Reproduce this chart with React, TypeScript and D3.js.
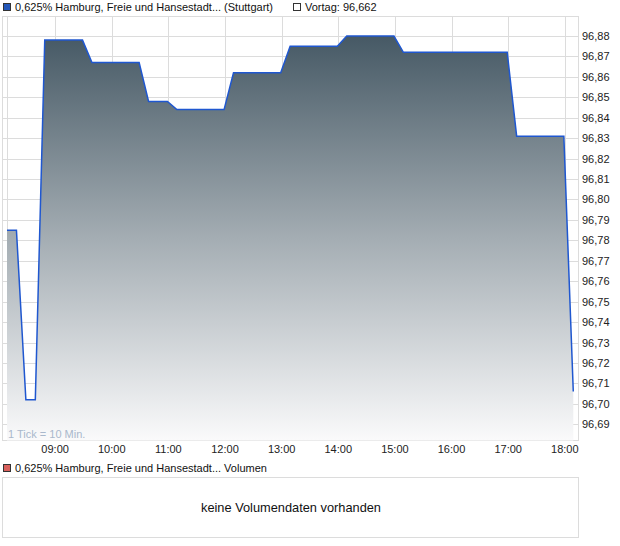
import React from "react";
import * as d3 from "d3";

const times = ["08:09","08:19","08:29","08:39","08:49","09:29","09:39","10:29","10:39","10:59","11:09","11:59","12:09","12:59","13:09","13:59","14:09","14:59","15:09","16:59","17:09","17:59","18:09"];
const values = [96.785,96.785,96.702,96.702,96.878,96.878,96.867,96.867,96.848,96.848,96.844,96.844,96.862,96.862,96.875,96.875,96.880,96.880,96.872,96.872,96.831,96.831,96.706];
const xTickLabels = ["09:00","10:00","11:00","12:00","13:00","14:00","15:00","16:00","17:00","18:00"];
const yTicks = [96.69,96.70,96.71,96.72,96.73,96.74,96.75,96.76,96.77,96.78,96.79,96.80,96.81,96.82,96.83,96.84,96.85,96.86,96.87,96.88];
const xDomainLabels = ["08:09","18:14"];
const yDomain = [96.6818, 96.8898];
const titleText = "0,625% Hamburg, Freie und Hansestadt... (Stuttgart)";
const prevText = "Vortag: 96,662";
const volTitle = "0,625% Hamburg, Freie und Hansestadt... Volumen";
const volEmpty = "keine Volumendaten vorhanden";
const tickNote = "1 Tick = 10 Min.";

const W = 620, H = 546;
const L = 2.5, R = 578.5, T = 16.5, B = 440.5;
const PX0 = 7, PX1 = 578;
const font = "'Liberation Sans', Arial, sans-serif";

export default function App() {
  const parse = d3.timeParse("%H:%M");
  const x = d3.scaleTime().domain(xDomainLabels.map(s => parse(s) as Date)).range([PX0, PX1]);
  const y = d3.scaleLinear().domain(yDomain).range([441, 16]);
  const pts = times.map((t, i) => ({ t: parse(t) as Date, v: values[i] }));
  const line = d3.line<any>().x(d => x(d.t)).y(d => y(d.v));
  const area = d3.area<any>().x(d => x(d.t)).y0(B).y1(d => y(d.v));
  const fmt = (v: number) => d3.format(".2f")(v).replace(".", ",");
  const gTop = y(d3.max(values) as number);

  return (
    <svg width={W} height={H} style={{ position: "absolute", left: 0, top: 0, background: "#fff" }} fontFamily={font}>
      <defs>
        <linearGradient id="fillGrad" gradientUnits="userSpaceOnUse" x1="0" y1={gTop} x2="0" y2={B}>
          <stop offset="0" stopColor="#465965" />
          <stop offset="0.5" stopColor="#a4adb3" />
          <stop offset="1" stopColor="#fafafb" />
        </linearGradient>
      </defs>
      {/* top legend */}
      <rect x={3.5} y={3.5} width={7} height={7} fill="#2457b9" stroke="#333" strokeWidth={1} />
      <text x={15} y={11} fontSize={11} fill="#111">{titleText}</text>
      <rect x={293.5} y={3.5} width={7} height={7} fill="#fff" stroke="#333" strokeWidth={1} />
      <text x={305} y={11} fontSize={11} fill="#111">{prevText}</text>

      {/* grid */}
      {yTicks.map(v => (
        <line key={"h" + v} x1={L} x2={R} y1={Math.round(y(v)) + 0.5} y2={Math.round(y(v)) + 0.5} stroke="#dcdcdc" strokeWidth={1} />
      ))}
      {xTickLabels.map(s => (
        <line key={"v" + s} x1={Math.round(x(parse(s) as Date)) + 0.5} x2={Math.round(x(parse(s) as Date)) + 0.5} y1={T} y2={B} stroke="#dcdcdc" strokeWidth={1} />
      ))}
      <line x1={PX0 + 0.5} x2={PX0 + 0.5} y1={T} y2={B} stroke="#dcdcdc" strokeWidth={1} />
      <rect x={L} y={T} width={R - L} height={B - T} fill="none" stroke="#dcdcdc" strokeWidth={1} />

      {/* area + line */}
      <path d={area(pts) as string} fill="url(#fillGrad)" />
      <path d={line(pts) as string} fill="none" stroke="#1f57d0" strokeWidth={1.5} />

      <text x={8} y={438} fontSize={11} fill="#a9b8cc">{tickNote}</text>

      {/* y labels */}
      {yTicks.map(v => (
        <text key={"yl" + v} x={582} y={y(v) + 4} fontSize={11} fill="#222">{fmt(v)}</text>
      ))}
      {/* x labels */}
      {xTickLabels.map(s => (
        <text key={"xl" + s} x={x(parse(s) as Date)} y={453} fontSize={11} fill="#222" textAnchor="middle">{s}</text>
      ))}

      {/* volume */}
      <rect x={3.5} y={464.5} width={7} height={7} fill="#d9605c" stroke="#333" strokeWidth={1} />
      <text x={15} y={472} fontSize={11} fill="#111">{volTitle}</text>
      <rect x={2.5} y={477.5} width={576} height={60} fill="#fff" stroke="#dcdcdc" strokeWidth={1} />
      <text x={291} y={512} fontSize={12.8} fill="#111" textAnchor="middle">{volEmpty}</text>
    </svg>
  );
}
